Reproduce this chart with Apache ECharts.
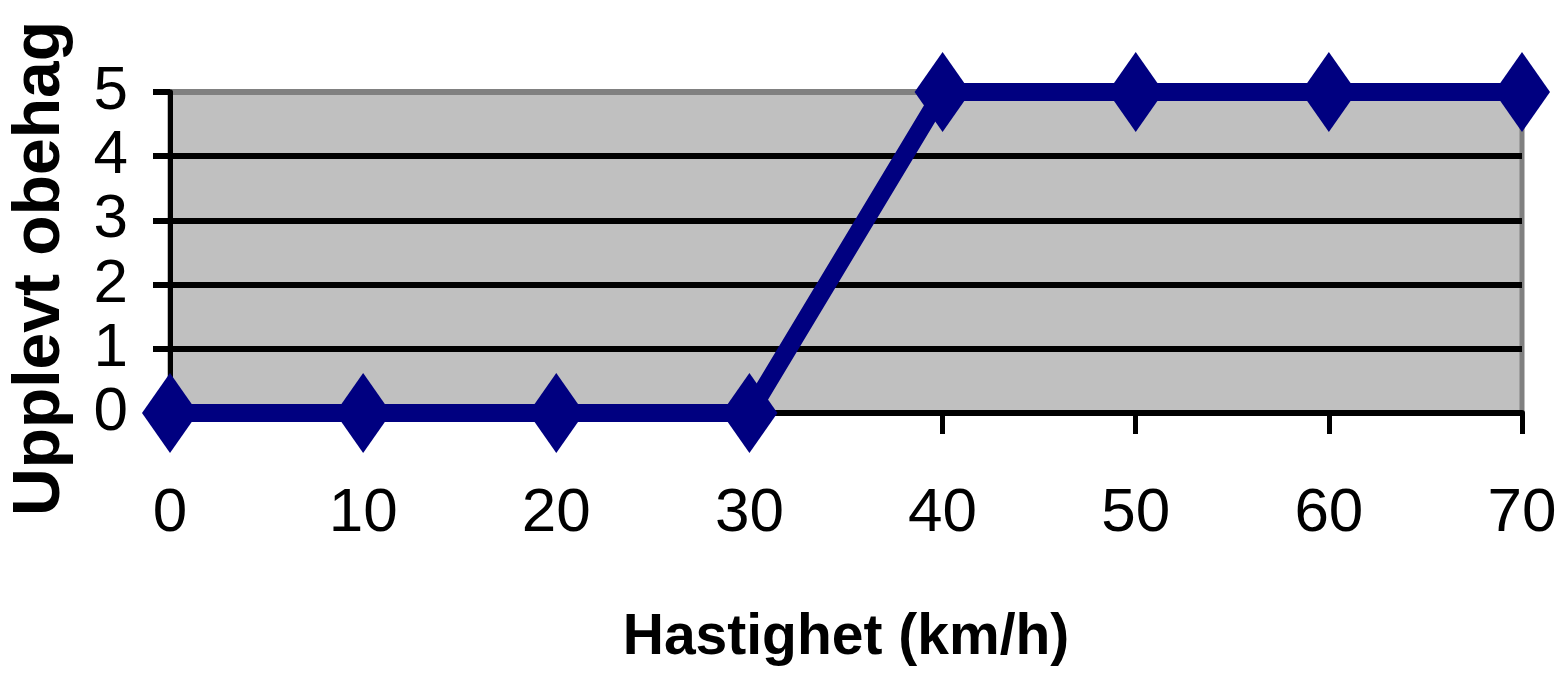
<!DOCTYPE html>
<html>
<head>
<meta charset="utf-8">
<title>Upplevt obehag</title>
<script src="https://cdn.jsdelivr.net/npm/echarts@6/dist/echarts.min.js"></script>
<style>
  html, body { margin: 0; padding: 0; background: #ffffff; }
  #chart { width: 1562px; height: 681px; }
</style>
</head>
<body>
<div id="chart"></div>
<script>
// Speed categories (km/h) and perceived discomfort
const speeds = ['0', '10', '20', '30', '40', '50', '60', '70'];
const discomfort = [0, 0, 0, 0, 5, 5, 5, 5];
const yTicks = { min: 0, max: 5, interval: 1 };
const xTitle = 'Hastighet (km/h)';
const yTitle = 'Upplevt obehag';

const font = '"Liberation Sans Narrow", "Liberation Sans", Arial, sans-serif';

const chart = echarts.init(document.getElementById('chart'), null, { renderer: 'canvas' });

chart.setOption({
  animation: false,
  backgroundColor: '#ffffff',
  grid: {
    left: 170,
    right: 40,
    top: 92,
    bottom: 268,
    show: true,
    backgroundColor: '#c0c0c0',
    borderColor: '#808080',
    borderWidth: 5,
    outerBoundsMode: 'none'
  },
  xAxis: {
    type: 'category',
    data: speeds,
    boundaryGap: false,
    name: xTitle,
    nameLocation: 'middle',
    nameGap: 197,
    nameMoveOverlap: false,
    nameTextStyle: { fontFamily: font, fontWeight: 'bold', fontSize: 57, color: '#000' },
    axisLine: { show: true, lineStyle: { color: '#000', width: 6 } },
    axisTick: { show: true, length: 21, lineStyle: { color: '#000', width: 5 } },
    axisLabel: {
      fontFamily: font, fontSize: 62, color: '#000', margin: 70,
      showMinLabel: true, showMaxLabel: true, hideOverlap: false
    },
    splitLine: { show: false }
  },
  yAxis: {
    type: 'value',
    min: yTicks.min,
    max: yTicks.max,
    interval: yTicks.interval,
    name: yTitle,
    nameLocation: 'middle',
    nameRotate: 90,
    nameGap: 96,
    nameMoveOverlap: false,
    nameTextStyle: { fontFamily: font, fontWeight: 'bold', fontSize: 66, color: '#000', padding: [0, 32, 0, 0] },
    axisLine: { show: true, lineStyle: { color: '#000', width: 5 } },
    axisTick: { show: true, length: 17, lineStyle: { color: '#000', width: 6 } },
    axisLabel: {
      fontFamily: font, fontSize: 62, color: '#000', margin: 42,
      showMinLabel: true, showMaxLabel: true, hideOverlap: false
    },
    splitLine: {
      show: true,
      lineStyle: { color: ['#000', '#000', '#000', '#000', '#000', '#808080'], width: 6 }
    }
  },
  series: [{
    type: 'line',
    data: discomfort,
    clip: false,
    color: '#000080',
    lineStyle: { color: '#000080', width: 18 },
    symbol: 'diamond',
    symbolSize: [56, 80],
    itemStyle: { color: '#000080' }
  }]
});
</script>
</body>
</html>
